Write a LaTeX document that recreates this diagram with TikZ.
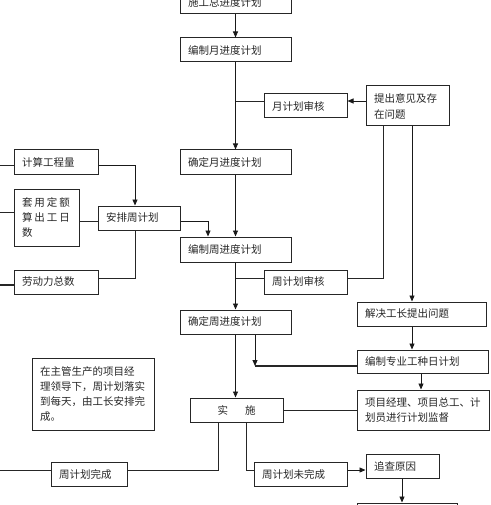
\documentclass[tikz,border=0pt]{standalone}
\usepackage{fontspec}
\setmainfont{Noto Sans CJK SC}
\usetikzlibrary{arrows.meta,calc}
\begin{document}
\begin{tikzpicture}[x=1pt,y=-1pt,
  font=\fontsize{10.5}{15}\selectfont,
  bx/.style={draw=black!85, line width=1pt, inner xsep=8pt, inner ysep=0pt, minimum height=24pt, align=left, text=black!85},
  ln/.style={line width=0.9pt, draw=black!85},
  ar/.style={line width=0.9pt, draw=black!90, -{Triangle[length=6pt,width=5pt]}}]
\useasboundingbox (0,0) rectangle (490,505);
% boxes
\node[bx, text width=95pt] (top) at (235.5,2) {施工总进度计划};
\node[bx, text width=95pt] (m1) at (235.5,50) {编制月进度计划};
\node[bx, text width=95pt] (m2) at (235.5,162) {确定月进度计划};
\node[bx, text width=95pt, minimum height=25pt] (zw) at (235.5,249.5) {编制周进度计划};
\node[bx, text width=95pt] (qz) at (235.5,322) {确定周进度计划};
\node[bx, text width=67pt] (ys) at (305.5,106) {月计划审核};
\node[bx, text width=67pt, minimum height=40pt, execute at begin node=\setlength{\baselineskip}{16pt}] (ti) at (407.5,106) {提出意见及存\\在问题};
\node[bx, text width=68pt] (js) at (56,162) {计算工程量};
\node[bx, text width=49pt, minimum height=57pt] (ty) at (46.5,217.5) {\makebox[48pt][s]{套\hfill 用\hfill 定\hfill 额}\\\makebox[48pt][s]{算\hfill 出\hfill 工\hfill 日}\\数};
\node[bx, text width=66pt] (ap) at (139,218) {安排周计划};
\node[bx, text width=68pt] (ld) at (56,282) {劳动力总数};
\node[bx, text width=67pt] (zs) at (305.5,282) {周计划审核};
\node[bx, text width=113pt] (jj) at (421.5,314) {解决工长提出问题};
\node[bx, text width=115pt, minimum height=23pt] (bz) at (422.5,361.5) {编制专业工种日计划};
\node[bx, text width=116pt, minimum height=40pt] (xm) at (423,410) {项目经理、项目总工、计\\划员进行计划监督};
\node[bx, text width=77pt, align=center] (ss) at (236.5,410) {实\hspace{17pt}施};
\node[bx, text width=106pt, minimum height=72pt] (note) at (93,394) {在主管生产的项目经\\理领导下，周计划落实\\到每天，由工长安排完\\成。};
\node[bx, text width=60pt] (wc) at (89,474) {周计划完成};
\node[bx, text width=77pt] (wwc) at (300.5,474) {周计划未完成};
\node[bx, text width=57pt] (zc) at (402.5,466) {追查原因};
\node[bx, minimum width=100pt, inner xsep=0pt] (bot) at (407,515) {};
% connectors
\draw[ar] (top) -- (m1);
\draw[ar] (m1) -- (m2);
\coordinate (j1) at (235.5,101);
\draw[ln] (j1) -- (j1 -| ys.west);
\draw[ar] (ti.west |- j1) -- (ys.east |- j1);
\coordinate (c1) at (135,165);
\draw[ar] (js.east |- c1) -- (c1) -- (c1 |- ap.north);
\coordinate (e1) at (0,165);
\draw[ln] (e1) -- (e1 -| js.west);
\coordinate (e2) at (0,212);
\draw[ln] (e2) -- (e2 -| ty.west);
\coordinate (c2) at (0,221);
\draw[ln] (ty.east |- c2) -- (ap.west |- c2);
\coordinate (c3) at (208,221);
\draw[ar] (ap.east |- c3) -- (c3) -- (c3 |- zw.north);
\coordinate (c4) at (135,278);
\draw[ln] (c4 |- ap.south) -- (c4) -- (c4 -| ld.east);
\coordinate (e3) at (0,285);
\draw[ln, line width=1.6pt] (e3) -- (e3 -| ld.west);
\draw[ar] (m2) -- (zw);
\draw[ar] (zw) -- (qz);
\coordinate (j2) at (235.5,278);
\draw[ln] (j2) -- (j2 -| zs.west);
\coordinate (c5) at (383,278);
\draw[ln] (zs.east |- c5) -- (c5) -- (c5 |- ti.south);
\coordinate (c6) at (412,0);
\draw[ar] (c6 |- ti.south) -- (c6 |- jj.north);
\draw[ar] (qz.south) -- (qz.south |- ss.north);
\coordinate (c7) at (255,366);
\draw[ar] (c7 |- qz.south) -- (c7);
\draw[ln, line width=1.1pt] (bz.west |- c7) -- (c7);
\draw[ar] (c6 |- jj.south) -- (c6 |- bz.north);
\coordinate (c9) at (421,0);
\draw[ar] (c9 |- bz.south) -- (c9 |- xm.north);
\draw[ln] (ss) -- (xm);
\coordinate (c10) at (218,470);
\draw[ln] (c10 |- ss.south) -- (c10) -- (c10 -| wc.east);
\coordinate (e4) at (0,470);
\draw[ln] (e4) -- (e4 -| wc.west);
\coordinate (c11) at (246,470);
\draw[ln] (c11 |- ss.south) -- (c11) -- (c11 -| wwc.west);
\draw[ar] (wwc.east |- c11) -- (zc.west |- c11);
\coordinate (c12) at (402,0);
\draw[ar] (c12 |- zc.south) -- (c12 |- bot.north);
\end{tikzpicture}
\end{document}
